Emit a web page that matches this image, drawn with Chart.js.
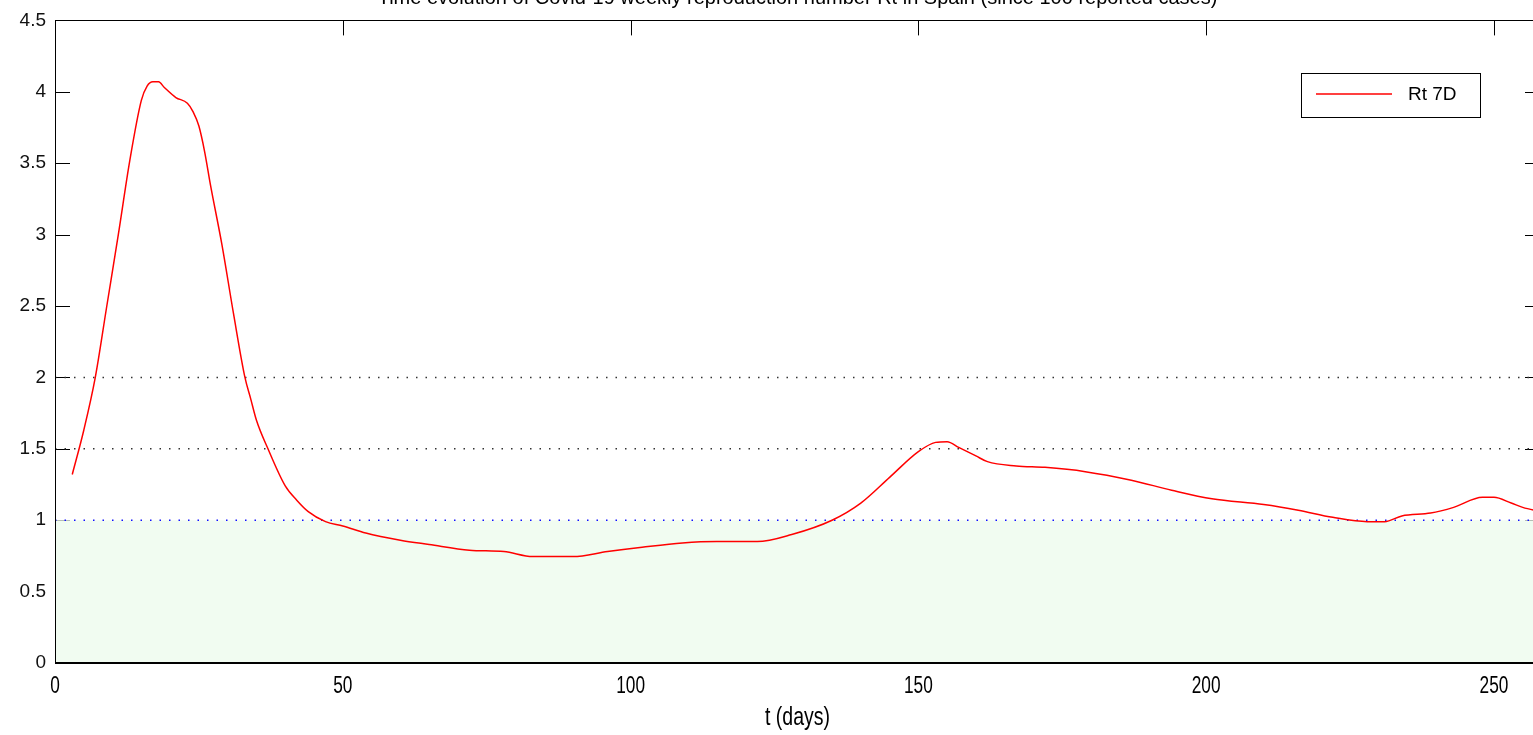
<!DOCTYPE html>
<html lang="en">
<head>
    <meta charset="UTF-8">
    <title>Rt 7D - Spain</title>
    <script src="https://cdn.jsdelivr.net/npm/chart.js@4"></script>
    <style>
        html, body {
            margin: 0;
            padding: 0;
            background: #fff;
            overflow: hidden;
        }
        .wrap {
            position: relative;
            width: 1545px;
            height: 735px;
        }
    </style>
</head>
<body>
    <div class="wrap"><canvas id="rtChart"></canvas></div>

    <script>
        const titleText = 'Time evolution of Covid-19 weekly reproduction number Rt in Spain (since 100 reported cases)';
        const xTitle = 't (days)';
        const seriesLabel = 'Rt 7D';

        // days since 100 reported cases, and the 7-day Rt estimate
        const days = [3, 5, 7, 9, 11, 13, 15, 16, 17, 18, 19, 21, 23, 24, 25, 26, 27, 29, 31, 33, 34, 35, 37, 40, 42, 44, 47, 50,
            54, 60, 65, 72, 78, 83, 90, 96, 102, 109, 115, 122, 128, 135, 140, 145, 150, 153, 155, 157, 160, 162, 167, 172,
            179, 187, 194, 201, 210, 216, 222, 228, 231, 234, 239, 243, 248, 250, 253, 255, 258];
        const rt7d = [1.32, 1.63, 2.0, 2.5, 3.0, 3.52, 3.94, 4.04, 4.07, 4.07, 4.03, 3.96, 3.92, 3.86, 3.76, 3.58, 3.35, 2.93, 2.45, 2.0, 1.85, 1.70, 1.50, 1.24, 1.14, 1.06, 0.99, 0.96,
            0.91, 0.86, 0.83, 0.79, 0.78, 0.745, 0.745, 0.78, 0.81, 0.84, 0.85, 0.85, 0.90, 1.00, 1.12, 1.30, 1.48, 1.545, 1.55, 1.51, 1.45, 1.41, 1.38, 1.37,
            1.34, 1.28, 1.21, 1.15, 1.11, 1.07, 1.02, 0.99, 0.99, 1.03, 1.05, 1.09, 1.16, 1.16, 1.12, 1.09, 1.06];

        // reference levels
        const warnLevels = [2, 1.5];
        const epidemicThreshold = 1;

        const xRange = [0, 258];
        const xTicks = [0, 50, 100, 150, 200, 250];
        const yTicks = [0, 0.5, 1, 1.5, 2, 2.5, 3, 3.5, 4, 4.5];

        const hLine = (level) => [{ x: xRange[0], y: level }, { x: xRange[1], y: level }];

        const plainFont = "'Liberation Sans', Arial, sans-serif";

        // box, inward ticks (drawn under the data so the green band hides the lower ones)
        const axesBox = {
            id: 'axesBox',
            beforeDatasetsDraw(chart) {
                const { ctx, chartArea: a, scales } = chart;
                const len = 15;
                ctx.save();
                ctx.strokeStyle = '#000';
                ctx.lineWidth = 1;
                ctx.beginPath();
                yTicks.forEach(v => {
                    const y = Math.round(scales.y.getPixelForValue(v)) + 0.5;
                    ctx.moveTo(a.left, y); ctx.lineTo(a.left + len, y);
                    ctx.moveTo(a.right, y); ctx.lineTo(a.right - len, y);
                });
                xTicks.forEach(v => {
                    const x = Math.round(scales.x.getPixelForValue(v)) + 0.5;
                    ctx.moveTo(x, a.top); ctx.lineTo(x, a.top + len);
                    ctx.moveTo(x, a.bottom); ctx.lineTo(x, a.bottom - len);
                });
                ctx.stroke();
                ctx.restore();
            },
            afterDatasetsDraw(chart) {
                const { ctx, chartArea: a } = chart;
                ctx.save();
                ctx.strokeStyle = '#000';
                ctx.lineWidth = 1;
                ctx.strokeRect(Math.round(a.left) + 0.5, Math.round(a.top) + 0.5,
                    Math.round(a.right - a.left), Math.round(a.bottom - a.top));
                ctx.lineWidth = 2;
                ctx.beginPath();
                ctx.moveTo(a.left, Math.round(a.bottom));
                ctx.lineTo(a.right, Math.round(a.bottom));
                ctx.stroke();
                ctx.restore();
            }
        };

        // narrow x tick labels under the axis, placed by the x scale
        const xLabels = {
            id: 'xLabels',
            afterDraw(chart) {
                const { ctx, chartArea: a, scales } = chart;
                ctx.save();
                ctx.fillStyle = '#000';
                ctx.font = '24px ' + plainFont;
                ctx.textAlign = 'center';
                ctx.textBaseline = 'middle';
                xTicks.forEach(v => {
                    const x = scales.x.getPixelForValue(v);
                    ctx.save();
                    ctx.translate(x, a.bottom + 23);
                    ctx.scale(0.72, 1);
                    ctx.fillText(String(v), 0, 0);
                    ctx.restore();
                });
                ctx.save();
                ctx.font = '25px ' + plainFont;
                ctx.translate((a.left + a.right) / 2, a.bottom + 55);
                ctx.scale(0.78, 1);
                ctx.fillText(xTitle, 0, 0);
                ctx.restore();
                ctx.restore();
            }
        };

        // title over the axes and the boxed legend in the upper right corner
        const annotations = {
            id: 'annotations',
            afterDraw(chart) {
                const { ctx, chartArea: a } = chart;
                ctx.save();
                ctx.fillStyle = '#000';
                ctx.font = '20px ' + plainFont;
                ctx.textAlign = 'center';
                ctx.textBaseline = 'alphabetic';
                ctx.fillText(titleText, (a.left + a.right) / 2, 4);

                const ds = chart.data.datasets.find(d => d.label === seriesLabel);
                const bx = a.right - 239, by = 73, bw = 179, bh = 44;
                ctx.fillStyle = '#fff';
                ctx.fillRect(bx, by, bw, bh);
                ctx.strokeStyle = '#000';
                ctx.lineWidth = 1;
                ctx.strokeRect(bx + 0.5, by + 0.5, bw, bh);
                ctx.strokeStyle = ds.borderColor;
                ctx.lineWidth = 1.5;
                ctx.beginPath();
                ctx.moveTo(bx + 15, by + 21);
                ctx.lineTo(bx + 91, by + 21);
                ctx.stroke();
                ctx.fillStyle = '#000';
                ctx.font = '19px ' + plainFont;
                ctx.textAlign = 'left';
                ctx.textBaseline = 'middle';
                ctx.fillText(ds.label, bx + 107, by + 22);
                ctx.restore();
            }
        };

        const ctx = document.getElementById('rtChart').getContext('2d');
        new Chart(ctx, {
            type: 'line',
            data: {
                datasets: [
                    {
                        label: seriesLabel,
                        data: days.map((d, i) => ({ x: d, y: rt7d[i] })),
                        borderColor: '#ff0000',
                        borderWidth: 1.5,
                        pointRadius: 0,
                        cubicInterpolationMode: 'monotone',
                        fill: false,
                        order: 0
                    },
                    ...warnLevels.map(level => ({
                        label: 'level ' + level,
                        data: hLine(level),
                        borderColor: '#333',
                        borderWidth: 1.5,
                        borderDash: [1.5, 8],
                        pointRadius: 0,
                        fill: false,
                        order: 1
                    })),
                    {
                        label: 'threshold',
                        data: hLine(epidemicThreshold),
                        borderColor: '#1010ff',
                        borderWidth: 1.5,
                        borderDash: [1.5, 8],
                        backgroundColor: '#f1fcf1',
                        pointRadius: 0,
                        fill: 'origin',
                        order: 2
                    }
                ]
            },
            options: {
                responsive: true,
                maintainAspectRatio: false,
                animation: false,
                layout: { padding: { top: 20, right: 5, left: 0, bottom: 0 } },
                plugins: {
                    legend: { display: false },
                    tooltip: { enabled: false }
                },
                scales: {
                    x: {
                        type: 'linear',
                        min: xRange[0],
                        max: xRange[1],
                        afterBuildTicks: (scale) => { scale.ticks = xTicks.map(v => ({ value: v })); },
                        afterFit: (scale) => { scale.height = 72; },
                        grid: { display: false, drawTicks: false },
                        border: { display: false },
                        ticks: { display: false }
                    },
                    y: {
                        min: 0,
                        max: 4.5,
                        afterBuildTicks: (scale) => { scale.ticks = yTicks.map(v => ({ value: v })); },
                        afterFit: (scale) => { scale.width = 55; },
                        grid: { display: false, drawTicks: false },
                        border: { display: false },
                        ticks: {
                            color: '#111',
                            padding: 9,
                            font: { family: plainFont, size: 19 },
                            callback: (v) => String(v)
                        }
                    }
                }
            },
            plugins: [axesBox, xLabels, annotations]
        });
    </script>
</body>
</html>
